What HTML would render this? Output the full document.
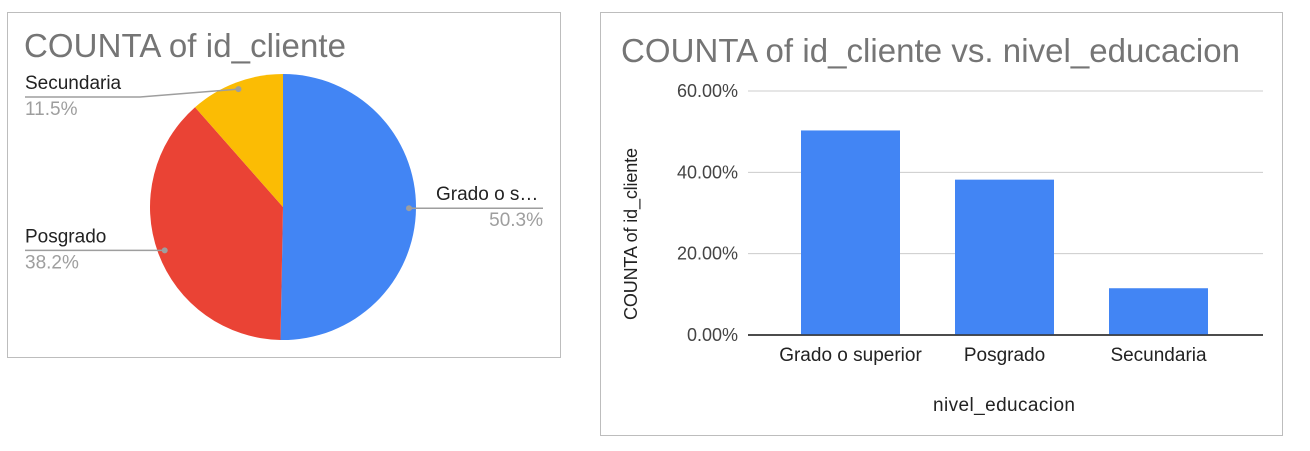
<!DOCTYPE html>
<html><head><meta charset="utf-8"><style>
body{margin:0;background:#fff;width:1310px;height:451px;overflow:hidden;font-family:"Liberation Sans",Arial,sans-serif;}
svg{position:absolute;left:0;top:0}
</style></head><body>
<svg width="1310" height="451">
<rect x="7.5" y="12.5" width="553" height="345" fill="#fff" stroke="#bdbdbd"/>
<text x="24" y="57" font-size="33" fill="#757575" textLength="322">COUNTA of id_cliente</text>
<g id="pie"></g>
<rect x="600.5" y="12.5" width="682" height="423" fill="#fff" stroke="#bdbdbd"/>
<text x="621" y="62" font-size="33" fill="#757575" textLength="619">COUNTA of id_cliente vs. nivel_educacion</text>
<g id="bars"></g>
<text x="1004" y="411" font-size="19" fill="#222" text-anchor="middle" textLength="142">nivel_educacion</text>
<text transform="translate(637,234) rotate(-90)" font-size="18" fill="#222" text-anchor="middle" textLength="172">COUNTA of id_cliente</text>
</svg>
<script>
const categories=["Grado o superior","Posgrado","Secundaria"];
const shortLabels=["Grado o s…","Posgrado","Secundaria"];
const values=[50.3,38.2,11.5];
const colors=["#4285f4","#ea4335","#fbbc04"];
const yTicks=[0,20,40,60];
const tickLabels=["0.00%","20.00%","40.00%","60.00%"];
const NS="http://www.w3.org/2000/svg";
function mk(t,a,p){const e=document.createElementNS(NS,t);for(const k in a)e.setAttribute(k,a[k]);p.appendChild(e);return e;}
const pie=document.getElementById('pie');
const cx=283,cy=207,r=133;
const total=values.reduce((a,b)=>a+b,0);
let ang=0;
const labelPos=[{lx:543,ly:208,tx:436,anchor:"end"},{lx:25,ly:250},{lx:25,ly:97,elbow:140}];
values.forEach((v,i)=>{
  const a0=ang,a1=ang+v/total*2*Math.PI;ang=a1;
  const p=(a)=>[cx+r*Math.sin(a),cy-r*Math.cos(a)];
  const [x0,y0]=p(a0),[x1,y1]=p(a1);
  const large=(a1-a0)>Math.PI?1:0;
  const s=mk('path',{d:`M${cx},${cy}L${x0},${y0}A${r},${r} 0 ${large} 1 ${x1},${y1}Z`,fill:colors[i]},pie);
  
  
  const am=(a0+a1)/2, dr=r-7;
  const dx=cx+dr*Math.sin(am), dy=cy-dr*Math.cos(am);
  const L=labelPos[i];
  let pts;
  if(L.elbow) pts=`${dx},${dy} ${L.elbow},${L.ly} ${L.lx},${L.ly}`;
  else pts=`${dx},${dy} ${L.lx},${dy}`;
  const ln=mk('polyline',{points:pts,fill:'none',stroke:'#9e9e9e','stroke-width':1.5},pie);
  
  
  mk('circle',{cx:dx,cy:dy,r:3,fill:'#9e9e9e'},pie);
  const ly=L.elbow?L.ly:dy;
  const anchor=L.anchor||"start";
  const t1=mk('text',{x:L.tx||L.lx,y:ly-8,'font-size':19,fill:'#222'},pie);
  t1.textContent=shortLabels[i];
  
  
  const t2=mk('text',{x:L.lx,y:ly+18,'font-size':19,fill:'#9e9e9e','text-anchor':anchor},pie);
  t2.textContent=v.toFixed(1)+'%';
  
  
});
const g=document.getElementById('bars');
const x0=748,x1=1263,y0=335,y60=91;
const ys=v=>y0-(v/60)*(y0-y60);
const band=154,bw=99,first=801;
yTicks.forEach((t,i)=>{
  const l=mk('line',{x1:x0,x2:x1,y1:ys(t),y2:ys(t),stroke:i==0?'#333':'#ccc','stroke-width':i==0?1.5:1},g);
  
  
  const tx=mk('text',{x:738,y:ys(t)+6,'font-size':18,fill:'#444','text-anchor':'end'},g);
  tx.textContent=tickLabels[i];
  
  
});
values.forEach((v,i)=>{
  const bx=first+i*band;
  const b=mk('rect',{x:bx,y:ys(v),width:bw,height:y0-ys(v),fill:'#4285f4'},g);
  
  
  const t=mk('text',{x:bx+bw/2,y:361,'font-size':19,fill:'#222','text-anchor':'middle'},g);
  t.textContent=categories[i];
  
  
});
mk('line',{x1:x0,x2:x1,y1:y0,y2:y0,stroke:'#333','stroke-width':1.5},g);
</script>
</body></html>
